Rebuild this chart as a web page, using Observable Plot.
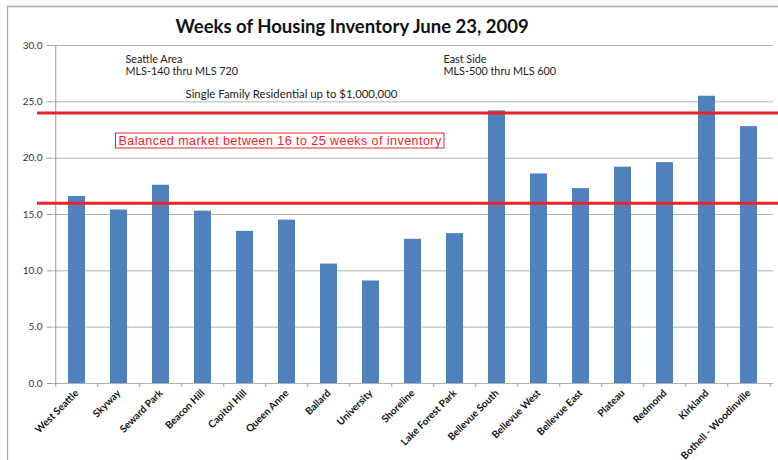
<!DOCTYPE html>
<html>
<head>
<meta charset="utf-8">
<script src="https://cdn.jsdelivr.net/npm/d3@7"></script>
<script src="https://cdn.jsdelivr.net/npm/@observablehq/plot@0.6"></script>
<style>
  html, body { margin: 0; padding: 0; background: #fff; overflow: hidden; }
  #wrap { width: 778px; height: 460px; overflow: hidden; }
  #wrap svg { display: block; }
</style>
</head>
<body>
<div id="wrap"></div>
<script>
const categories = ["West Seattle","Skyway","Seward Park","Beacon Hill","Capitol Hill","Queen Anne","Ballard","University","Shoreline","Lake Forest Park","Bellevue South","Bellevue West","Bellevue East","Plateau","Redmond","Kirkland","Bothell - Woodinville"];
const weeks = [16.6,15.4,17.6,15.3,13.5,14.5,10.6,9.1,12.8,13.3,24.2,18.6,17.3,19.2,19.6,25.5,22.8];
const yTicks = [0,5,10,15,20,25,30];
const balancedBounds = [16, 24];

const titleText = "Weeks of Housing Inventory June 23, 2009";
const seattleLines = ["Seattle Area", "MLS-140 thru MLS 720"];
const eastLines = ["East Side", "MLS-500 thru MLS 600"];
const subtitleText = "Single Family Residential up to $1,000,000";
const balancedText = "Balanced market between 16 to 25 weeks of inventory";

const data = categories.map((c, i) => ({category: c, weeks: weeks[i]}));

const W = 778, H = 460, mL = 51, mR = 5, mT = 45, mB = 77;
const step = (W - mL - mR) / categories.length;
const font = "Lato, 'Open Sans', sans-serif";

const chart = Plot.plot({
  width: W, height: H,
  marginLeft: mL, marginRight: mR, marginTop: mT, marginBottom: mB,
  style: {fontFamily: font, background: "white"},
  x: {domain: categories, paddingInner: 0.6, paddingOuter: 0.3, label: null},
  y: {domain: [0, 30], label: null},
  marks: [
    Plot.gridY(yTicks, {stroke: "#b0b0b0", strokeOpacity: 1, strokeWidth: 1}),
    Plot.axisY(yTicks, {tickFormat: d3.format(".1f"), tickSize: 4, tickPadding: 5, fontSize: 10, fill: "#333", stroke: "#999", label: null}),
    Plot.ruleX([categories[0]], {dx: -step / 2, y1: 0, y2: 30, stroke: "#999"}),
    // boundary tick marks below the x axis
    Plot.ruleX(categories, {x: d => d, dx: -step / 2, y1: 0, y2: 0, insetBottom: -4, stroke: "#999"}),
    Plot.ruleX([categories[categories.length - 1]], {x: d => d, dx: step / 2, y1: 0, y2: 0, insetBottom: -4, stroke: "#999"}),
    Plot.barY(data, {x: "category", y: "weeks", fill: "#4f81bd"}),
    Plot.ruleY(balancedBounds, {stroke: "#e8242a", strokeWidth: 3, insetLeft: -14, insetRight: -5}),
    Plot.axisX({tickRotate: -45, tickSize: 0, tickPadding: 8, fontSize: 10, fontWeight: "bold", fill: "#111", label: null}),
    // title & annotations
    Plot.text([titleText], {frameAnchor: "top-left", dx: 124, dy: -13, lineAnchor: "bottom", textAnchor: "start", fontSize: 18.5, fontWeight: "bold", fill: "#111"}),
    Plot.text([seattleLines[0]], {frameAnchor: "top-left", dx: 74, dy: 17, lineAnchor: "bottom", textAnchor: "start", fontSize: 10.8, fill: "#222"}),
    Plot.text([seattleLines[1]], {frameAnchor: "top-left", dx: 74, dy: 29, lineAnchor: "bottom", textAnchor: "start", fontSize: 10.8, fill: "#222"}),
    Plot.text([eastLines[0]], {frameAnchor: "top-left", dx: 392, dy: 17, lineAnchor: "bottom", textAnchor: "start", fontSize: 10.8, fill: "#222"}),
    Plot.text([eastLines[1]], {frameAnchor: "top-left", dx: 392, dy: 29, lineAnchor: "bottom", textAnchor: "start", fontSize: 10.8, fill: "#222"}),
    Plot.text([subtitleText], {frameAnchor: "top-left", dx: 134, dy: 52, lineAnchor: "bottom", textAnchor: "start", fontSize: 11.4, fill: "#222"}),
    Plot.text([balancedText], {frameAnchor: "top-left", dx: 67, dy: 99, lineAnchor: "bottom", textAnchor: "start", fontSize: 12.5, fill: "#e8242a", fontFamily: "'Liberation Sans', Arial, sans-serif", className: "balanced"})
  ]
});

document.getElementById("wrap").appendChild(chart);

const NS = "http://www.w3.org/2000/svg";
// outer chart-area border (top and left edges only, as in the reference)
const border = document.createElementNS(NS, "path");
border.setAttribute("d", `M7.5,${H} V6.5 H${W}`);
border.setAttribute("fill", "none");
border.setAttribute("stroke", "#aaaaaa");
border.setAttribute("stroke-width", 1.3);
chart.appendChild(border);

// letter spacing and box for the balanced-market label
const bt = chart.querySelector("g.balanced text");
if (bt) {
  bt.setAttribute("letter-spacing", "0.45");
  const bb = bt.getBBox();
  const r = document.createElementNS(NS, "rect");
  r.setAttribute("x", bb.x - 3); r.setAttribute("y", bb.y - 0.5);
  r.setAttribute("width", bb.width + 5); r.setAttribute("height", bb.height + 1);
  r.setAttribute("fill", "none"); r.setAttribute("stroke", "#e8242a"); r.setAttribute("stroke-width", 1);
  const tr = bt.getAttribute("transform"); if (tr) r.setAttribute("transform", tr);
  bt.parentNode.insertBefore(r, bt);
}
</script>
</body>
</html>
